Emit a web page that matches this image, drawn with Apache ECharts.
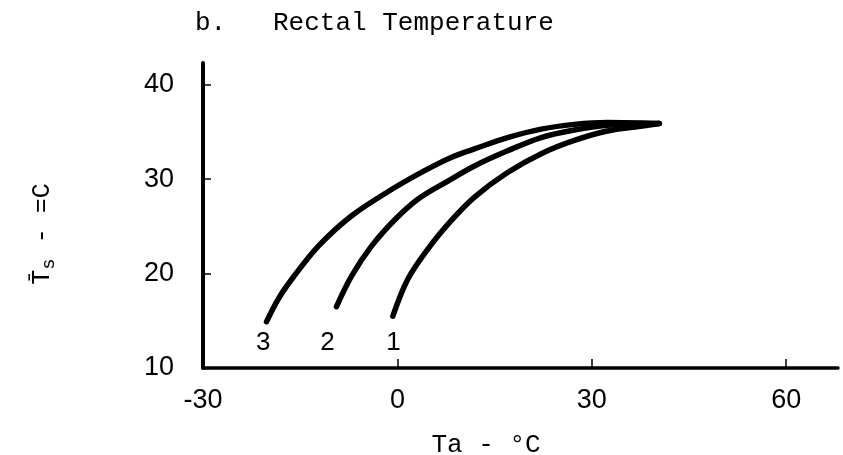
<!DOCTYPE html>
<html><head><meta charset="utf-8">
<script src="https://cdn.jsdelivr.net/npm/echarts@6/dist/echarts.min.js"></script>
<style>html,body{margin:0;padding:0;background:#fff}#c{width:843px;height:455px}</style>
</head><body><div id="c"></div>
<script>
const xTicks = [-30, 0, 30, 60];
const yTicks = [10, 20, 30, 40];
const curve3 = [[-20.2,14.9],[-18.3,17.4],[-16.3,19.4],[-12.2,22.9],[-7.1,26.1],[-0.9,28.9],[4.2,30.9],[8.3,32.3],[11.9,33.2],[17,34.4],[22.2,35.3],[27.3,35.8],[32.4,36.0],[40.4,35.9]];
const curve2 = [[-9.4,16.5],[-7.1,19.7],[-4,22.9],[-0.4,25.7],[3.2,27.9],[7.8,29.8],[11.9,31.4],[17,33.0],[22.2,34.4],[27.3,35.2],[32.4,35.7],[40.4,35.9]];
const curve1 = [[-0.7,15.5],[1.6,19.4],[4.7,22.6],[8.3,25.6],[11.9,28.1],[17,30.7],[22.2,32.7],[27.3,34.1],[32.4,35.1],[37.5,35.6],[40.4,35.9]];
const curveNames = ['3', '2', '1'];
const curveLabelX = [-20.7, -10.8, -0.6];
const curveLabelY = [12.7, 12.7, 12.7];
const title = 'b.   Rectal Temperature';
const xName = 'Ta - \u00B0C';

const chart = echarts.init(document.getElementById('c'));
const mono = '"Liberation Mono", "DejaVu Sans Mono", monospace';
const sans = '"Liberation Sans", Arial, sans-serif';
function lineSeries(d){
  return {type:'line', data:d, smooth:0.35, showSymbol:false, symbol:'none',
    lineStyle:{color:'#000', width:5.5, cap:'round', join:'round'}, z:5};
}
chart.setOption({
  animation:false,
  backgroundColor:'#fff',
  grid:{left:203, right:5, top:63, bottom:87, containLabel:false, outerBoundsMode:'none'},
  xAxis:{type:'value', min:-30, max:68, interval:30,
    axisLine:{show:true, onZero:false, lineStyle:{color:'#000', width:3.5}},
    axisTick:{show:true, inside:true, length:9, lineStyle:{color:'#000', width:1.5}, customValues:xTicks},
    axisLabel:{color:'#000', fontFamily:sans, fontSize:27, margin:19, customValues:xTicks},
    splitLine:{show:false},
    name:xName, nameLocation:'middle', nameGap:64,
    nameTextStyle:{color:'#000', fontFamily:mono, fontSize:26, padding:[0,69,0,0]}
  },
  yAxis:{type:'value', min:10, max:42.3, interval:10,
    axisLine:{show:true, onZero:false, lineStyle:{color:'#000', width:4}},
    axisTick:{show:true, inside:true, length:8, lineStyle:{color:'#000', width:1.5}, customValues:yTicks},
    axisLabel:{color:'#000', fontFamily:sans, fontSize:27, margin:29, customValues:yTicks},
    splitLine:{show:false}
  },
  graphic:[
    {type:'text', left:195, top:10, style:{text:title, font:'26px ' + mono, fill:'#000'}},
    {type:'text', x:42, y:234, rotation:Math.PI/2,
      style:{text:'{t|T\u0304}{s|s}{t| - =C}', align:'center', verticalAlign:'middle',
        rich:{t:{fontFamily:mono, fontSize:25, fill:'#000', lineHeight:32, verticalAlign:'middle'},
              s:{fontFamily:mono, fontSize:19, fill:'#000', lineHeight:32, verticalAlign:'bottom'}}}}
  ],
  series:[
    lineSeries(curve3), lineSeries(curve2), lineSeries(curve1),
    {type:'scatter', symbolSize:0, z:6, itemStyle:{opacity:1},
      data: curveNames.map((n,i)=>({value:[curveLabelX[i], curveLabelY[i]], name:n})),
      label:{show:true, position:'inside', formatter:p=>p.name, color:'#000', opacity:1, fontFamily:sans, fontSize:26}}
  ]
});
</script></body></html>
